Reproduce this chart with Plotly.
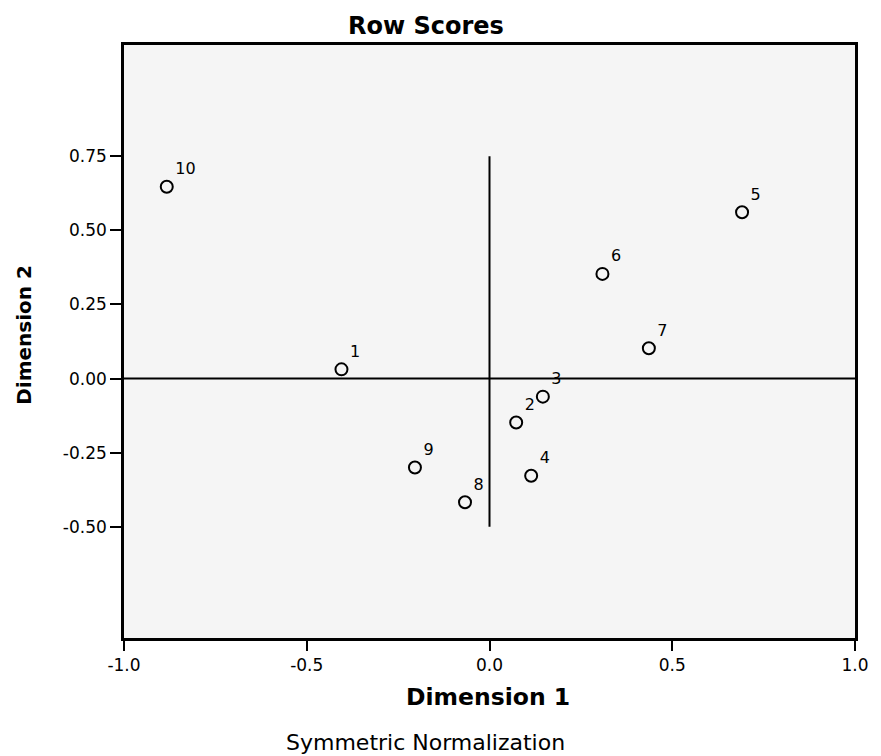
import plotly.graph_objects as go

labels = ["1", "2", "3", "4", "5", "6", "7", "8", "9", "10"]
dim1 = [-0.405, 0.073, 0.146, 0.114, 0.691, 0.309, 0.436, -0.067, -0.204, -0.883]
dim2 = [0.031, -0.148, -0.061, -0.328, 0.561, 0.353, 0.102, -0.417, -0.300, 0.647]

x_ticks = [-1.0, -0.5, 0.0, 0.5, 1.0]
x_ticklabels = ["-1.0", "-0.5", "0.0", "0.5", "1.0"]
y_ticks = [-0.5, -0.25, 0.0, 0.25, 0.5, 0.75]
y_ticklabels = ["-0.50", "-0.25", "0.00", "0.25", "0.50", "0.75"]

# reference lines (axes through origin)
hline_x = [-1.0, 1.0]
hline_y = [0.0, 0.0]
vline_x = [0.0, 0.0]
vline_y = [-0.5, 0.75]

reg = "DejaVu Sans, Verdana, sans-serif"

fig = go.Figure()
fig.add_trace(go.Scatter(x=hline_x, y=hline_y, mode="lines",
                         line=dict(color="black", width=2), hoverinfo="skip", showlegend=False))
fig.add_trace(go.Scatter(x=vline_x, y=vline_y, mode="lines",
                         line=dict(color="black", width=2), hoverinfo="skip", showlegend=False))
fig.add_trace(go.Scatter(
    x=dim1, y=dim2, mode="markers+text", text=labels, textposition="top right",
    textfont=dict(family=reg, size=16, color="black"),
    marker=dict(symbol="circle-open", size=12, color="black", line=dict(width=2)),
    showlegend=False))

fig.update_layout(
    width=881, height=756,
    margin=dict(l=124, r=14, t=45, b=118),
    paper_bgcolor="white", plot_bgcolor="#f5f5f5",
    font=dict(family=reg, color="black"),
    xaxis=dict(range=[-1.0, 1.0], tickvals=x_ticks, ticktext=x_ticklabels,
               ticks="outside", ticklen=10, tickwidth=2, tickcolor="black",
               showgrid=False, zeroline=False, showline=True, mirror=True,
               linecolor="black", linewidth=2.5, tickfont=dict(size=17)),
    yaxis=dict(range=[-0.875, 1.125], tickvals=y_ticks, ticktext=y_ticklabels,
               ticks="outside", ticklen=11, tickwidth=2, tickcolor="black",
               showgrid=False, zeroline=False, showline=True, mirror=True,
               linecolor="black", linewidth=2.5, tickfont=dict(size=17)),
    annotations=[
        dict(text="<b>Row Scores</b>", xref="paper", yref="paper", x=0.413, y=1.032,
             xanchor="center", yanchor="middle", showarrow=False,
             font=dict(family=reg, size=24)),
        dict(text="<b>Dimension 2</b>", xref="paper", yref="paper", x=-0.137, y=0.511,
             xanchor="center", yanchor="middle", showarrow=False, textangle=-90,
             font=dict(family=reg, size=20)),
        dict(text="<b>Dimension 1</b>", xref="paper", yref="paper", x=0.498, y=-0.0995,
             xanchor="center", yanchor="middle", showarrow=False,
             font=dict(family=reg, size=23.5)),
        dict(text="Symmetric Normalization", xref="paper", yref="paper", x=0.412, y=-0.177,
             xanchor="center", yanchor="middle", showarrow=False,
             font=dict(family=reg, size=22)),
    ],
)

fig.write_html(
    "out.html",
    config={"displayModeBar": False},
    post_script="document.body.style.margin='0';document.body.style.overflow='hidden';",
)
